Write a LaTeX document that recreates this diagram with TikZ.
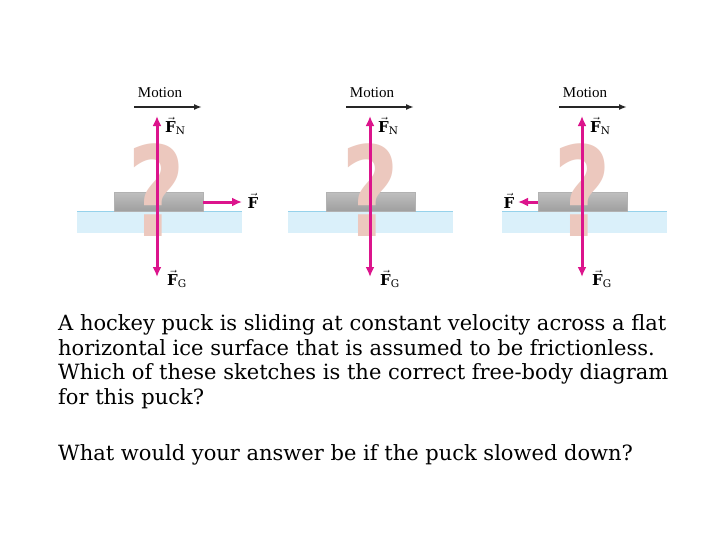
\documentclass[tikz,border=0pt]{standalone}
\usepackage{fontspec}
\setmainfont{DejaVu Serif}
\newfontfamily\lab{Liberation Serif}
\newfontfamily\qfont{DejaVu Sans}
\usetikzlibrary{arrows.meta}
\definecolor{mag}{RGB}{220,20,140}
\definecolor{qpink}{RGB}{236,200,190}
\definecolor{ice}{RGB}{218,240,250}
\definecolor{iceedge}{RGB}{150,210,235}
\tikzset{
 force/.style={mag,line width=3pt,-{Latex[length=10pt,width=9pt]}},
 motion/.style={black!85,line width=1.8pt,-{Latex[length=8pt,width=6pt]}},
 lbl/.style={font=\lab\fontsize{15}{15}\selectfont,inner sep=0pt},
 body/.style={font=\fontsize{21}{25}\selectfont,inner sep=0pt,anchor=base west}
}
\newcommand{\vF}{$\vec{\mathbf{F}}$}
\begin{document}
\begin{tikzpicture}[x=1pt,y=-1pt]
\useasboundingbox (0,0) rectangle (728,546);
\fill[white] (0,0) rectangle (728,546);
\foreach \n/\ix/\px/\vx/\mx in {a/77/114/157/160, b/288/326/370/372, c/502/538/582/585}{
 \fill[ice] (\ix,211) rectangle ++(165,22);
 \draw[iceedge,line width=1pt] (\ix,211) -- ++(165,0);
 \shade[top color=gray!50,bottom color=gray!75,draw=gray!60] (\px,192) rectangle ++(89,19);
 \node[font=\qfont\bfseries\fontsize{125}{125}\selectfont,text=qpink,inner sep=0pt,xscale=0.8] (q\n) at (\vx,190) {?};
 \node[lbl] (m\n) at (\mx,93) {Motion};
 \coordinate (ms\n) at (\mx-26,107);
 \coordinate (me\n) at (\mx+42,107);
 \draw[motion] (ms\n) -- (me\n);
 \coordinate (c\n) at (\vx,198);
 \coordinate (t\n) at (\vx,116);
 \coordinate (b\n) at (\vx,277);
 \draw[force] (c\n) -- (t\n);
 \draw[force] (c\n) -- (b\n);
 \node[lbl,anchor=west] (fn\n) at (\vx+8,126) {\vF$_{\mathrm{N}}$};
 \node[lbl,anchor=west] (fg\n) at (\vx+10,279) {\vF$_{\mathrm{G}}$};
}
\coordinate (fa1) at (203,202); \coordinate (fa2) at (242,202);
\draw[force] (fa1) -- (fa2);
\node[lbl] (fa) at (253,201) {\vF};
\coordinate (fc1) at (538,202); \coordinate (fc2) at (518,202);
\draw[force] (fc1) -- (fc2);
\node[lbl] (fc) at (509,201) {\vF};
\node[body] (t1) at (58,330) {A hockey puck is sliding at constant velocity across a flat};
\node[body] (t2) at (58,355) {horizontal ice surface that is assumed to be frictionless.};
\node[body] (t3) at (58,379) {Which of these sketches is the correct free-body diagram};
\node[body] (t4) at (58,404) {for this puck?};
\node[body] (t5) at (58,460) {What would your answer be if the puck slowed down?};
\end{tikzpicture}
\end{document}
